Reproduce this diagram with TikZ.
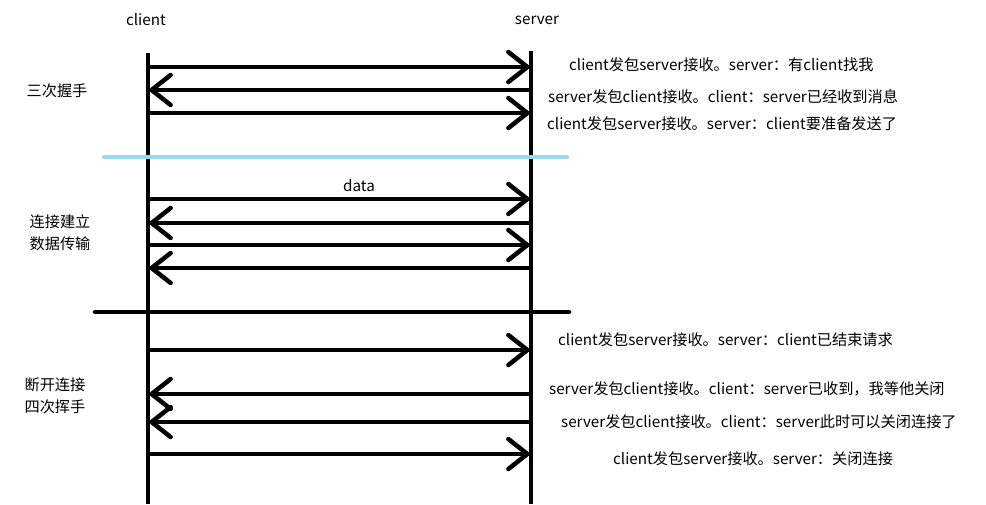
\documentclass[tikz,border=0pt]{standalone}
\usepackage{fontspec}
\setmainfont{Noto Sans CJK SC}
\usetikzlibrary{arrows.meta}

\definecolor{sepblue}{RGB}{153,217,234}

\begin{document}
\begin{tikzpicture}[
  x=1pt, y=-1pt,
  font=\fontsize{15.2}{18}\selectfont,
  life/.style={line width=4.5pt},
  msg/.style={line width=4.5pt, -{Straight Barb[length=19pt,width=30pt,line width=4.5pt,line cap=round]}},
  sepline/.style={line width=4.5pt, line cap=round},
  note/.style={anchor=west, inner sep=0pt},
  phase/.style={inner sep=0pt, align=center},
]
\useasboundingbox (0,0) rectangle (986,504);

% Lifelines
\node[inner sep=0pt] (client) at (146,20) {client};
\node[inner sep=0pt] (server) at (537,20) {server};
\coordinate (ctop) at (148,53);
\coordinate (cbot) at (148,504);
\coordinate (stop) at (531,51);
\coordinate (sbot) at (531,504);
\draw[life] (ctop) -- (cbot);
\draw[life] (stop) -- (sbot);

% Message rows on both lifelines
\foreach \n/\y in {m1/67,m2/90,m3/113,m4/199,m5/223,m6/245,m7/268,m8/350,m9/394,m10/422,m11/454} {
  \coordinate (c\n) at (148,\y);
  \coordinate (s\n) at (531,\y);
}
\foreach \n in {m1,m3,m4,m6,m8,m11} {\draw[msg] (c\n) -- (s\n);}
\foreach \n in {m2,m5,m7,m9,m10} {\draw[msg] (s\n) -- (c\n);}

% Phase separators
\coordinate (bl) at (104,157);
\coordinate (br) at (567,157);
\draw[sepline, sepblue] (bl) -- (br);
\coordinate (kl) at (95,312);
\coordinate (kr) at (569,312);
\draw[sepline] (kl) -- (kr);

% Phase labels
\node[phase] (hs) at (57,91) {三次握手};
\node[phase] (dt) at (60,233) {连接建立\\[4pt]数据传输};
\node[phase] (wv) at (55,396) {断开连接\\[4pt]四次挥手};
\node[inner sep=0pt] (data) at (359,186) {data};

% Notes beside the server
\node[note] (n1) at (569,65)  {client发包server接收。server：有client找我};
\node[note] (n2) at (548,97)  {server发包client接收。client：server已经收到消息};
\node[note] (n3) at (547,124) {client发包server接收。server：client要准备发送了};
\node[note] (n8) at (558,340) {client发包server接收。server：client已结束请求};
\node[note] (n9) at (549,389) {server发包client接收。client：server已收到，我等他关闭};
\node[note] (n10) at (561,422) {server发包client接收。client：server此时可以关闭连接了};
\node[note] (n11) at (613,459) {client发包server接收。server：关闭连接};

\end{tikzpicture}
\end{document}
